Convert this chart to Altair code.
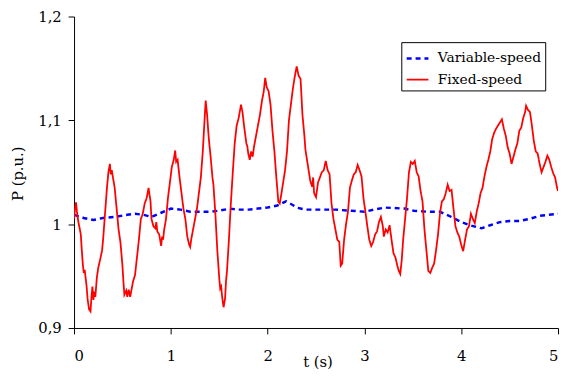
import altair as alt
import pandas as pd

series_names = ["Variable-speed", "Fixed-speed"]

t_fixed = [0.00, 0.01, 0.02, 0.03, 0.045, 0.06, 0.07, 0.08, 0.09, 0.10, 0.11, 0.12, 0.13, 0.14, 0.155, 0.17,
           0.18, 0.19, 0.20, 0.21, 0.22, 0.235, 0.25, 0.27, 0.29, 0.30, 0.32, 0.34, 0.355, 0.37, 0.38, 0.39,
           0.40, 0.42, 0.44, 0.46, 0.48, 0.50, 0.51, 0.52, 0.54, 0.55, 0.565, 0.58, 0.59, 0.61, 0.63, 0.65,
           0.67, 0.69, 0.71, 0.73, 0.75, 0.77, 0.78, 0.79, 0.80, 0.82, 0.84, 0.85, 0.86, 0.88, 0.90, 0.91,
           0.92, 0.93, 0.95, 0.97, 0.99, 1.01, 1.03, 1.045, 1.055, 1.07, 1.09, 1.11, 1.13, 1.15, 1.17, 1.19,
           1.20, 1.21, 1.23, 1.25, 1.27, 1.29, 1.31, 1.33, 1.345, 1.36, 1.375, 1.39, 1.40, 1.41, 1.43, 1.44,
           1.46, 1.48, 1.50, 1.51, 1.52, 1.53, 1.545, 1.56, 1.57, 1.58, 1.60, 1.62, 1.64, 1.66, 1.68, 1.70,
           1.725, 1.74, 1.76, 1.77, 1.78, 1.79, 1.80, 1.815, 1.83, 1.845, 1.86, 1.88, 1.90, 1.92, 1.94, 1.96,
           1.975, 1.99, 2.01, 2.03, 2.05, 2.07, 2.09, 2.11, 2.125, 2.14, 2.16, 2.18, 2.20, 2.22, 2.24, 2.26,
           2.28, 2.30, 2.32, 2.34, 2.36, 2.38, 2.39, 2.41, 2.43, 2.44, 2.46, 2.47, 2.48, 2.50, 2.52, 2.54,
           2.56, 2.58, 2.60, 2.62, 2.64, 2.66, 2.68, 2.70, 2.72, 2.74, 2.755, 2.77, 2.79, 2.81, 2.83, 2.85,
           2.87, 2.89, 2.91, 2.93, 2.95, 2.97, 2.99, 3.01, 3.03, 3.05, 3.07, 3.09, 3.11, 3.13, 3.15, 3.17,
           3.19, 3.20, 3.22, 3.24, 3.26, 3.28, 3.30, 3.32, 3.34, 3.355, 3.37, 3.385, 3.40, 3.42, 3.44, 3.46,
           3.48, 3.50, 3.52, 3.54, 3.56, 3.58, 3.60, 3.62, 3.64, 3.66, 3.68, 3.70, 3.72, 3.74, 3.76, 3.78,
           3.80, 3.82, 3.84, 3.86, 3.88, 3.90, 3.92, 3.94, 3.96, 3.98, 4.00, 4.02, 4.04, 4.06, 4.08, 4.10,
           4.12, 4.14, 4.16, 4.18, 4.20, 4.22, 4.24, 4.26, 4.28, 4.30, 4.32, 4.34, 4.36, 4.38, 4.40, 4.42,
           4.44, 4.46, 4.48, 4.50, 4.52, 4.54, 4.56, 4.58, 4.60, 4.62, 4.64, 4.66, 4.67, 4.69, 4.71, 4.73,
           4.75, 4.77, 4.79, 4.81, 4.83, 4.85, 4.87, 4.89, 4.91, 4.93, 4.95, 4.97, 4.99, 5.00]
p_fixed = [1.005, 1.015, 1.021, 1.012, 1.002, 0.995, 0.990, 0.975, 0.962, 0.953, 0.956, 0.948, 0.940, 0.928, 0.918, 0.916,
           0.930, 0.940, 0.927, 0.935, 0.930, 0.948, 0.958, 0.966, 0.975, 0.985, 1.010, 1.035, 1.050, 1.058, 1.048, 1.052,
           1.046, 1.035, 1.015, 0.995, 0.982, 0.960, 0.945, 0.932, 0.936, 0.930, 0.937, 0.930, 0.935, 0.945, 0.951, 0.968,
           0.985, 1.005, 1.010, 1.020, 1.025, 1.035, 1.028, 1.022, 1.005, 0.998, 0.996, 1.002, 0.993, 0.990, 0.979, 0.988,
           0.985, 0.994, 1.005, 1.025, 1.040, 1.055, 1.062, 1.071, 1.060, 1.062, 1.045, 1.030, 1.015, 1.005, 0.988, 0.980,
           0.978, 0.985, 0.995, 1.005, 1.015, 1.030, 1.045, 1.070, 1.095, 1.119, 1.105, 1.085, 1.075, 1.066, 1.045, 1.038,
           1.010, 0.975, 0.948, 0.938, 0.940, 0.930, 0.920, 0.928, 0.945, 0.955, 0.985, 1.020, 1.050, 1.078, 1.095, 1.102,
           1.115, 1.108, 1.092, 1.085, 1.078, 1.075, 1.068, 1.062, 1.070, 1.065, 1.075, 1.085, 1.095, 1.105, 1.118, 1.128,
           1.141, 1.132, 1.128, 1.115, 1.090, 1.070, 1.045, 1.022, 1.020, 1.028, 1.040, 1.052, 1.070, 1.100, 1.115, 1.130,
           1.142, 1.152, 1.143, 1.140, 1.105, 1.085, 1.072, 1.060, 1.048, 1.042, 1.036, 1.045, 1.030, 1.026, 1.040, 1.045,
           1.050, 1.052, 1.061, 1.052, 1.048, 1.020, 1.005, 0.995, 0.985, 0.983, 0.960, 0.962, 0.985, 1.000, 1.012, 1.035,
           1.042, 1.048, 1.050, 1.057, 1.052, 1.046, 1.025, 1.012, 0.998, 0.985, 0.979, 0.983, 0.990, 0.993, 1.002, 1.007,
           0.998, 0.988, 0.995, 0.992, 0.999, 0.985, 0.972, 0.968, 0.960, 0.955, 0.952, 0.965, 0.985, 1.005, 1.025, 1.050,
           1.060, 1.058, 1.061, 1.050, 1.046, 1.032, 1.022, 0.995, 0.975, 0.955, 0.953, 0.958, 0.962, 0.975, 0.990, 1.010,
           1.022, 1.024, 1.030, 1.038, 1.032, 1.033, 1.015, 0.998, 0.992, 0.988, 0.980, 0.974, 0.985, 0.995, 0.998, 1.010,
           1.005, 1.001, 1.012, 1.020, 1.030, 1.035, 1.046, 1.055, 1.062, 1.070, 1.082, 1.088, 1.092, 1.095, 1.098, 1.101,
           1.092, 1.085, 1.074, 1.068, 1.058, 1.065, 1.072, 1.078, 1.090, 1.093, 1.102, 1.108, 1.114, 1.110, 1.108, 1.095,
           1.080, 1.070, 1.068, 1.058, 1.050, 1.055, 1.060, 1.066, 1.062, 1.055, 1.049, 1.045, 1.035, 1.032]

t_var = [0.0, 0.1, 0.2, 0.3, 0.42, 0.55, 0.63, 0.72, 0.8, 0.9, 1.0, 1.1, 1.2, 1.3, 1.41, 1.5, 1.61, 1.7, 1.8, 1.9,
         2.0, 2.1, 2.19, 2.25, 2.3, 2.39, 2.5, 2.7, 2.85, 3.0, 3.1, 3.21, 3.41, 3.51, 3.65, 3.78, 3.85, 3.92, 4.0,
         4.09, 4.21, 4.3, 4.4, 4.5, 4.6, 4.7, 4.81, 4.9, 5.0]
p_var = [1.009, 1.006, 1.004, 1.006, 1.007, 1.009, 1.010, 1.009, 1.007, 1.011, 1.015, 1.014, 1.012, 1.012, 1.012,
         1.013, 1.015, 1.014, 1.014, 1.015, 1.016, 1.018, 1.022, 1.019, 1.016, 1.014, 1.014, 1.014, 1.013, 1.012,
         1.014, 1.016, 1.015, 1.013, 1.012, 1.012, 1.009, 1.006, 1.002, 0.999, 0.996, 0.999, 1.002, 1.003, 1.003,
         1.005, 1.008, 1.009, 1.010]

df = pd.concat([
    pd.DataFrame({"t": t_var, "P": p_var, "series": series_names[0]}),
    pd.DataFrame({"t": t_fixed, "P": p_fixed, "series": series_names[1]}),
])

FONT = "DejaVu Serif"

chart = alt.Chart(df).mark_line(clip=True).encode(
    x=alt.X("t:Q", scale=alt.Scale(domain=[0, 5], nice=False),
            axis=alt.Axis(values=[0, 1, 2, 3, 4, 5], title="t (s)", format="d",
                          labelPadding=15, titleX=247, titleY=39, titleBaseline="alphabetic",
                          titleAlign="center")),
    y=alt.Y("P:Q", scale=alt.Scale(domain=[0.9, 1.2], nice=False, zero=False),
            axis=alt.Axis(values=[0.9, 1.0, 1.1, 1.2], format=".1~f",
                          labelExpr="replace(datum.label, '.', ',')",
                          title="P (p.u.)", labelPadding=7, titleAngle=270,
                          titleX=-52, titleY=159, titleBaseline="alphabetic", titleAlign="center")),
    color=alt.Color("series:N", scale=alt.Scale(domain=series_names, range=["#0000ff", "#ff0000"]),
                    legend=alt.Legend(title=None, orient="none", legendX=332, legendY=26)),
    strokeDash=alt.StrokeDash("series:N", scale=alt.Scale(domain=series_names, range=[[5, 4], [1, 0]]),
                              legend=alt.Legend(title=None, orient="none", legendX=332, legendY=26)),
    strokeWidth=alt.StrokeWidth("series:N", scale=alt.Scale(domain=series_names, range=[2.5, 1.8]),
                                legend=None),
).properties(
    width=491, height=316,
    padding={"left": 67, "top": 6, "right": 2, "bottom": 42},
    autosize=alt.AutoSizeParams(type="none"),
).configure_view(stroke=None).configure_axis(
    grid=False, domainColor="black", tickColor="black", labelColor="black", titleColor="black",
    labelFont=FONT, titleFont=FONT, labelFontSize=15, titleFontSize=15, titleFontWeight="normal",
    tickSize=6, domainWidth=1, tickWidth=1,
).configure_legend(
    strokeColor="black", fillColor="white", padding=4, rowPadding=2,
    labelFont=FONT, labelFontSize=14, labelColor="black", labelOffset=8,
    symbolType="stroke", symbolSize=484, symbolStrokeWidth=2.5, cornerRadius=0,
)

chart.save("out.html", embed_options={"renderer": "svg", "actions": False})
